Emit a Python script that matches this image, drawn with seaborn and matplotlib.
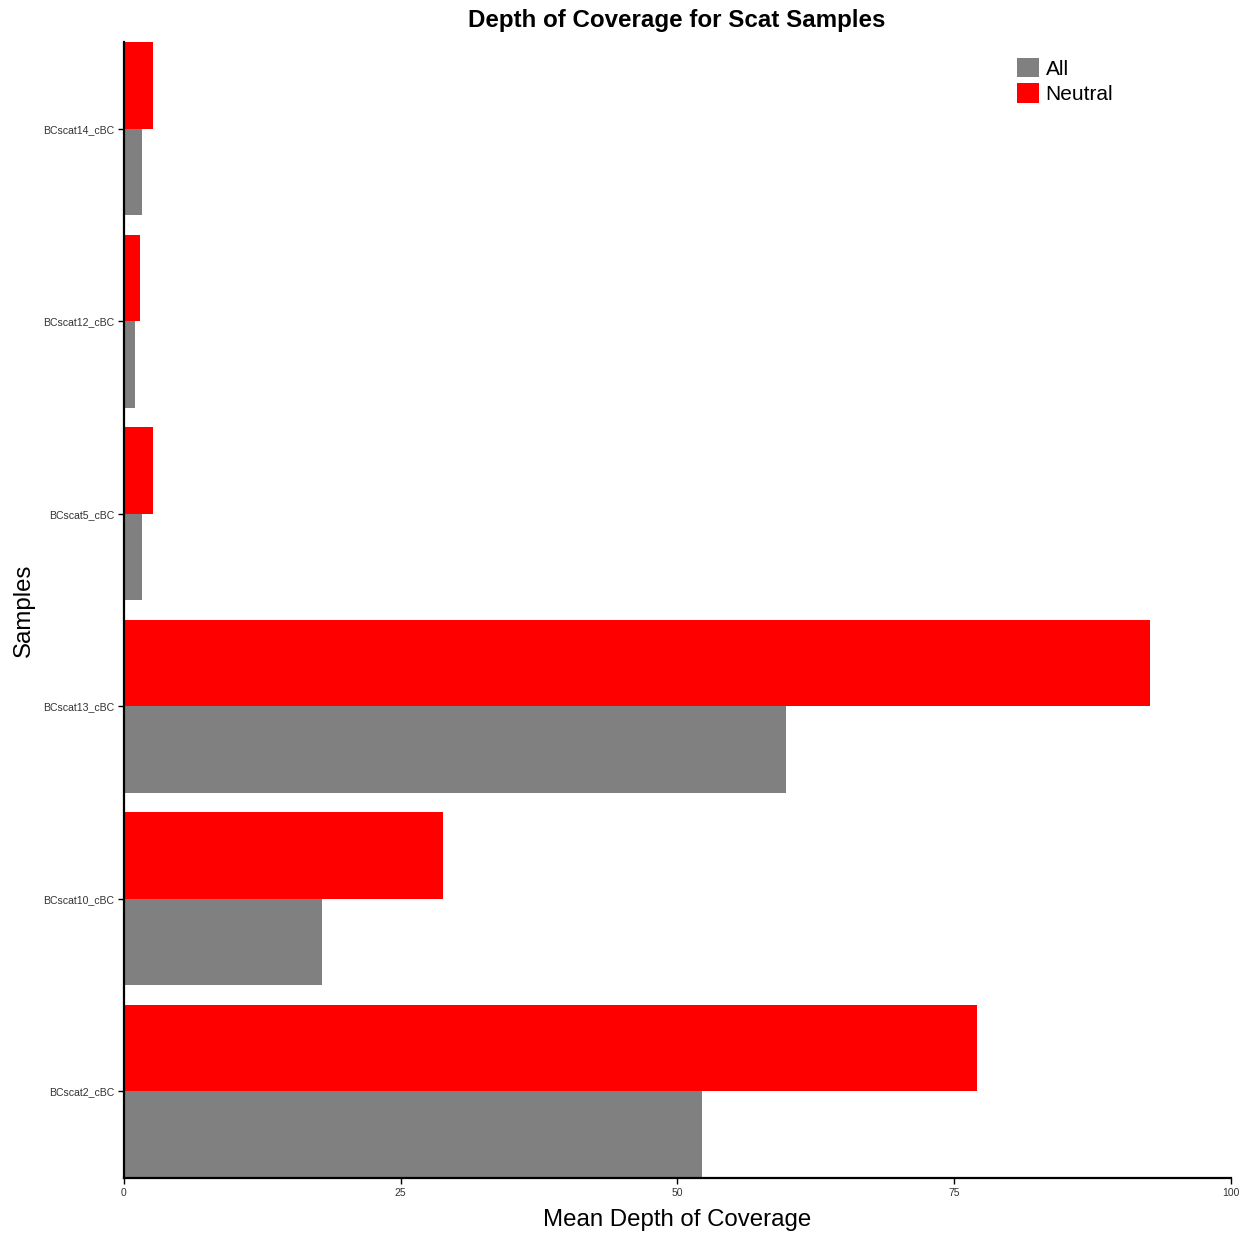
import matplotlib
matplotlib.use("Agg")
import matplotlib.pyplot as plt
import seaborn as sns
import pandas as pd

samples = ["BCscat2_cBC", "BCscat10_cBC", "BCscat13_cBC",
           "BCscat5_cBC", "BCscat12_cBC", "BCscat14_cBC"]
all_depth = [52.2, 17.9, 59.8, 1.65, 1.0, 1.65]
neutral_depth = [77.1, 28.8, 92.7, 2.6, 1.45, 2.6]
x_ticks = [0, 25, 50, 75, 100]

df = pd.DataFrame({
    "Samples": samples * 2,
    "Depth": all_depth + neutral_depth,
    "Set": ["All"] * len(samples) + ["Neutral"] * len(samples),
})

sns.set_theme(style="white")
plt.rcParams["font.family"] = ["Liberation Sans", "DejaVu Sans"]
plt.rcParams["text.color"] = "black"
plt.rcParams["axes.labelcolor"] = "black"

fig = plt.figure(figsize=(12.51, 12.37), dpi=100)
ax = fig.add_axes([0.0991, 0.0477, 0.8849, 0.9183])

sns.barplot(data=df, y="Samples", x="Depth", hue="Set", order=samples,
            hue_order=["All", "Neutral"], palette={"All": "#808080", "Neutral": "#FF0000"},
            orient="h", width=0.9, errorbar=None, saturation=1, ax=ax,
            linewidth=0)

ax.set_ylim(-0.45, len(samples) - 0.55)
ax.set_xlim(0, 100)
ax.set_xticks(x_ticks)
ax.set_xticklabels([str(t) for t in x_ticks], fontsize=7.5, color="#333333")
ax.tick_params(axis="y", labelsize=7.6, labelcolor="#333333")
ax.tick_params(axis="both", direction="out", length=4, width=1, color="black",
               bottom=True, left=True, pad=3)

for side in ("top", "right"):
    ax.spines[side].set_visible(False)
for side in ("left", "bottom"):
    ax.spines[side].set_color("black")
    ax.spines[side].set_linewidth(1.6)

ax.set_xlabel("Mean Depth of Coverage", fontsize=17.3, labelpad=8)
ax.set_ylabel("Samples", fontsize=17.3, labelpad=6)
fig.suptitle("Depth of Coverage for Scat Samples", fontsize=17.4,
             fontweight="bold", y=0.993, x=0.541)

ax.legend(loc="upper left", bbox_to_anchor=(0.807, 0.986), frameon=False,
          fontsize=15, handlelength=1.05, handleheight=1.05, labelspacing=0.22,
          handletextpad=0.3, borderpad=0, borderaxespad=0, title=None)

fig.savefig("out.png", dpi=100)
